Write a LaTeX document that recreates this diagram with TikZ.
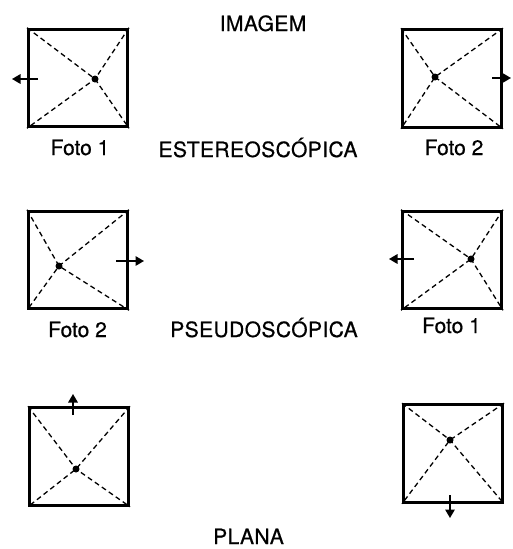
\documentclass[tikz,border=0pt]{standalone}
\usepackage{fontspec}
\setmainfont{TeX Gyre Heros}
\usepackage{tikz}
\usetikzlibrary{arrows.meta}

\tikzset{
  photo/.style={draw, line width=3pt, minimum width=99pt, minimum height=97.5pt, inner sep=0pt},
  ray/.style={line width=1.3pt, dash pattern=on 5pt off 3.5pt},
  ppoint/.style={circle, fill, inner sep=0pt, minimum size=7pt},
  shift arrow/.style={line width=1.6pt, -{Triangle[length=8.5pt,width=9.5pt]}},
  caption/.style={anchor=base, inner sep=0pt, font=\fontsize{21}{25}\selectfont\addfontfeature{FakeBold=0.6}},
  heading/.style={caption, font=\fontsize{21}{25}\selectfont\addfontfeature{LetterSpace=2,FakeBold=0.6}}
}

\begin{document}
\begin{tikzpicture}[x=1pt, y=-1pt]
  \useasboundingbox (0,0) rectangle (512,549);
  % Define nodes
  \node[photo] (b1) at (78,78) {};
  \node[photo] (b2) at (452,78.5) {};
  \node[photo] (b3) at (78,260) {};
  \node[photo] (b4) at (452,260) {};
  \node[photo] (b5) at (79,456.5) {};
  \node[photo] (b6) at (453,453.5) {};
  \node[ppoint] (p1) at (95,79) {};
  \node[ppoint] (p2) at (435,77) {};
  \node[ppoint] (p3) at (59,266) {};
  \node[ppoint] (p4) at (471,259) {};
  \node[ppoint] (p5) at (76,469) {};
  \node[ppoint] (p6) at (450,440) {};
  \coordinate (s1) at (38,79);   \coordinate (t1) at (12,79);
  \coordinate (s2) at (492,78);  \coordinate (t2) at (511,78);
  \coordinate (s3) at (116,261); \coordinate (t3) at (144,261);
  \coordinate (s4) at (414,259); \coordinate (t4) at (389,259);
  \coordinate (s5) at (73,415);  \coordinate (t5) at (73,394);
  \coordinate (s6) at (450,495); \coordinate (t6) at (450,518);
  % Labels
  \node[heading] (imagem) at (263,31) {IMAGEM};
  \node[heading] (estereo) at (258,157) {ESTEREOSCÓPICA};
  \node[heading] (pseudo) at (264,337) {PSEUDOSCÓPICA};
  \node[heading] (plana) at (248.5,544) {PLANA};
  \node[caption] (c1) at (80,155) {Foto 1};
  \node[caption] (c2) at (454,155) {Foto 2};
  \node[caption] (c3) at (77.5,337) {Foto 2};
  \node[caption] (c4) at (451.5,333) {Foto 1};
  % Connect nodes
  \foreach \i in {1,...,6} {
    \draw[ray] (b\i.north west) -- (p\i.center) -- (b\i.south east);
    \draw[ray] (b\i.north east) -- (p\i.center) -- (b\i.south west);
    \draw[shift arrow] (s\i) -- (t\i);
  }
\end{tikzpicture}
\end{document}
